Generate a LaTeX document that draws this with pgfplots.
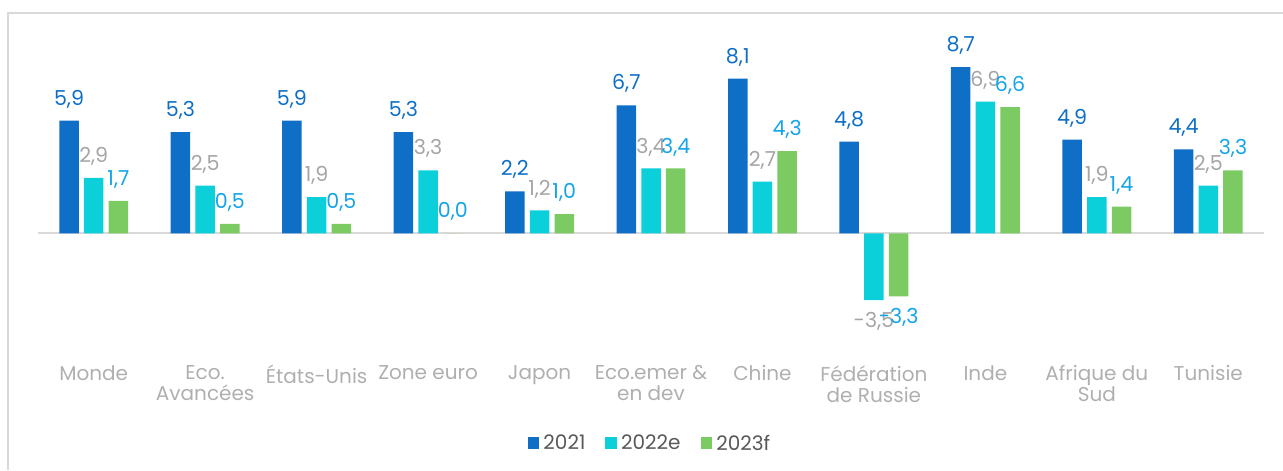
\documentclass[border=0pt]{standalone}
\usepackage{fontspec}
\setmainfont{Poppins}
\usepackage{pgfplots}
\pgfplotsset{compat=1.18}

\definecolor{c21}{HTML}{0F6FC6}
\definecolor{c22}{HTML}{0BD0D9}
\definecolor{c23}{HTML}{7CCA62}
\definecolor{lab22}{HTML}{A5A5A5}
\definecolor{lab23}{HTML}{14A4EA}
\definecolor{catgray}{HTML}{AFAFAF}
\definecolor{leggray}{HTML}{595959}
\definecolor{linegray}{HTML}{D9D9D9}

\begin{document}
\begin{tikzpicture}
\begin{axis}[
    at={(0,0)}, anchor=south west,
    width=613pt, height=162.35pt, scale only axis,
    xmin=-0.5, xmax=10.5, ymin=-7, ymax=10,
    clip=false,
    axis line style={draw=none},
    ytick=\empty,
    xtick={0,...,10},
    xticklabels={
      Monde,
      {Eco.\\Avancées},
      États-Unis,
      Zone euro,
      Japon,
      {Eco.emer \&\\en dev},
      Chine,
      {Fédération\\de Russie},
      Inde,
      {Afrique du\\Sud},
      Tunisie
    },
    major tick length=0pt,
    xticklabel style={align=center, text=catgray, anchor=north, inner sep=0pt,
      yshift=1pt, font=\fontsize{10}{10.5}\selectfont},
    ybar, bar width=9.75pt,
    nodes near coords={\pgfmathprintnumber[use comma,fixed,fixed zerofill,precision=1,assume math mode=true]{\pgfplotspointmeta}},
    nodes near coords align={vertical},
    every node near coord/.append style={font=\fontsize{10.3}{12}\selectfont, inner sep=6pt},
    legend style={draw=none, legend columns=3, at={(axis description cs:0.5,0)},
      anchor=center, yshift=-38.5pt, text=leggray,
      font=\fontsize{10}{12}\selectfont,
      /tikz/every even column/.append style={column sep=8pt}},
    legend image code/.code={\fill[#1] (0pt,-2.4pt) rectangle (5.85pt,3.45pt);},
  ]
  \draw[linegray, line width=1pt] (axis cs:-0.5,0) -- (axis cs:10.5,0);

  % 2021
  \addplot[fill=c21, draw=none, bar shift=-12.35pt,
    every node near coord/.append style={text=c21}] coordinates {
    (0,5.9) (1,5.3) (2,5.9) (3,5.3) (4,2.2) (5,6.7)
    (6,8.1) (7,4.8) (8,8.7) (9,4.9) (10,4.4)
  };
  \addlegendentry{2021}

  % 2022e
  \addplot[fill=c22, draw=none, bar shift=0pt,
    every node near coord/.append style={text=lab22}] coordinates {
    (0,2.9) (1,2.5) (2,1.9) (3,3.3) (4,1.2) (5,3.4)
    (6,2.7) (7,-3.5) (8,6.9) (9,1.9) (10,2.5)
  };
  \addlegendentry{2022e}

  % 2023f
  \addplot[fill=c23, draw=none, bar shift=12.35pt,
    every node near coord/.append style={text=lab23}] coordinates {
    (0,1.7) (1,0.5) (2,0.5) (3,0.0) (4,1.0) (5,3.4)
    (6,4.3) (7,-3.3) (8,6.6) (9,1.4) (10,3.3)
  };
  \addlegendentry{2023f}
\end{axis}
\draw[linegray, line width=1pt] (-14.75pt,-51.65pt) -- (-14.75pt,177pt) -- (622.5pt,177pt);
\pgfresetboundingbox
\useasboundingbox (-19pt,-51.65pt) rectangle (622.5pt,183.5pt);
\end{tikzpicture}
\end{document}
